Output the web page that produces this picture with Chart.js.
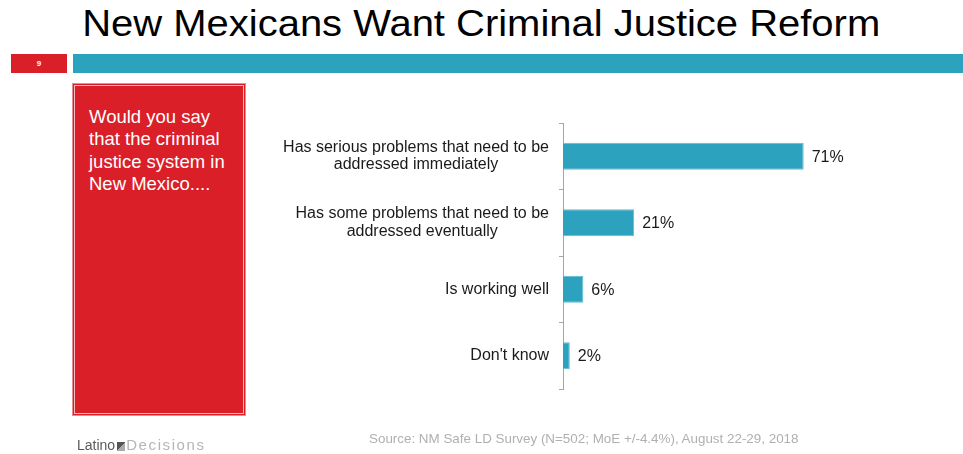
<!DOCTYPE html>
<html>
<head>
<meta charset="utf-8">
<script src="https://cdn.jsdelivr.net/npm/chart.js@4"></script>
<style>
  html, body { margin: 0; padding: 0; background: #fff; }
  body { width: 963px; height: 454px; position: relative; overflow: hidden; font-family: "Liberation Sans", Arial, sans-serif; }
  #chart { position: absolute; left: 0; top: 0; }
  .title { position: absolute; left: 0; width: 963px; top: 6px; text-align: center; font-size: 36px; line-height: 36px; color: #000; transform: scaleX(1.11); transform-origin: 484px 0; }
  .num { position: absolute; left: 11px; top: 54px; width: 56px; height: 19px; background: #da1f29; color: #fff; font-size: 8px; font-weight: bold; text-align: center; line-height: 19px; }
  .strip { position: absolute; left: 73px; top: 54px; width: 890px; height: 19px; background: #2ca2be; }
  .panel { position: absolute; left: 72px; top: 83px; width: 174px; height: 333px; box-sizing: border-box; background: #da1f29; border: 1px solid #e98a8f; box-shadow: inset 0 0 0 1px #da1f29, inset 0 0 0 2px #f0b9bc; padding: 22px 10px 0 16px; color: #fff; font-size: 18.5px; line-height: 22.3px; }
  .source { position: absolute; left: 369px; top: 431px; font-size: 13.4px; color: #b0b0b0; white-space: nowrap; }
  .logo { position: absolute; left: 77px; top: 436px; font-size: 14px; white-space: nowrap; }
  .logo .a { color: #5a5a5a; }
  .logo .icon { display: inline-block; width: 8px; height: 9px; background: linear-gradient(135deg, #555 50%, #aaa 50%); margin: 0 1px 0 2px; vertical-align: -1px; }
  .logo .b { color: #b5b5b5; font-size: 15px; letter-spacing: 1.6px; }
</style>
</head>
<body>
<div class="title">New Mexicans Want Criminal Justice Reform</div>
<div class="num">9</div>
<div class="strip"></div>
<div class="panel">Would you say that the criminal justice system in New Mexico....</div>
<canvas id="chart" width="963" height="454"></canvas>
<div class="logo"><span class="a">Latino</span><span class="icon"></span><span class="b">Decisions</span></div>
<div class="source">Source: NM Safe LD Survey (N=502; MoE +/-4.4%), August 22-29, 2018</div>
<script>
const categories = [
  ["Has serious problems that need to be", "addressed immediately"],
  ["Has some problems that need to be", "addressed eventually"],
  ["Is working well"],
  ["Don't know"]
];
const values = [71, 21, 6, 2];

const LABEL_FONT = '16px "Liberation Sans", Arial, sans-serif';

// category labels: block right-aligned, lines centred inside the block
const categoryLabels = {
  id: "categoryLabels",
  afterDraw(chart) {
    const ctx = chart.ctx;
    const ys = chart.scales.y;
    const lh = 17.5;
    ctx.save();
    ctx.font = LABEL_FONT;
    ctx.fillStyle = "#1a1a1a";
    ctx.textAlign = "center";
    ctx.textBaseline = "middle";
    categories.forEach((lines, i) => {
      const y = ys.getPixelForValue(i);
      const w = Math.max(...lines.map(l => ctx.measureText(l).width));
      const cx = ys.right - 14 - w / 2;
      const y0 = y - (lines.length - 1) * lh / 2;
      lines.forEach((l, j) => ctx.fillText(l, cx, y0 + j * lh));
    });
    ctx.restore();
  }
};

const valueLabels = {
  id: "valueLabels",
  afterDatasetsDraw(chart) {
    const ctx = chart.ctx;
    ctx.save();
    ctx.font = LABEL_FONT;
    ctx.fillStyle = "#1a1a1a";
    ctx.textAlign = "left";
    ctx.textBaseline = "middle";
    chart.getDatasetMeta(0).data.forEach((bar, i) => {
      ctx.fillText(values[i] + "%", bar.x + 8, bar.y + 1);
    });
    ctx.restore();
  }
};

new Chart(document.getElementById("chart"), {
  type: "bar",
  data: {
    labels: categories.map(c => c.join(" ")),
    datasets: [{
      data: values,
      backgroundColor: "#2ca2be",
      borderColor: "#62bad0",
      borderWidth: 1,
      barPercentage: 0.406,
      categoryPercentage: 1
    }]
  },
  options: {
    indexAxis: "y",
    responsive: false,
    animation: false,
    devicePixelRatio: 1,
    layout: { padding: { left: 540, right: 61, top: 123, bottom: 65 } },
    plugins: { legend: { display: false }, tooltip: { enabled: false } },
    scales: {
      x: { display: false, min: 0, max: 100 },
      y: {
        offset: true,
        grid: { offset: true, drawOnChartArea: false, tickLength: 4, color: "#a6a6a6" },
        border: { color: "#a6a6a6", width: 1 },
        ticks: { display: false },
        afterFit(scale) { scale.width = 23; }
      }
    }
  },
  plugins: [categoryLabels, valueLabels]
});
</script>
</body>
</html>
